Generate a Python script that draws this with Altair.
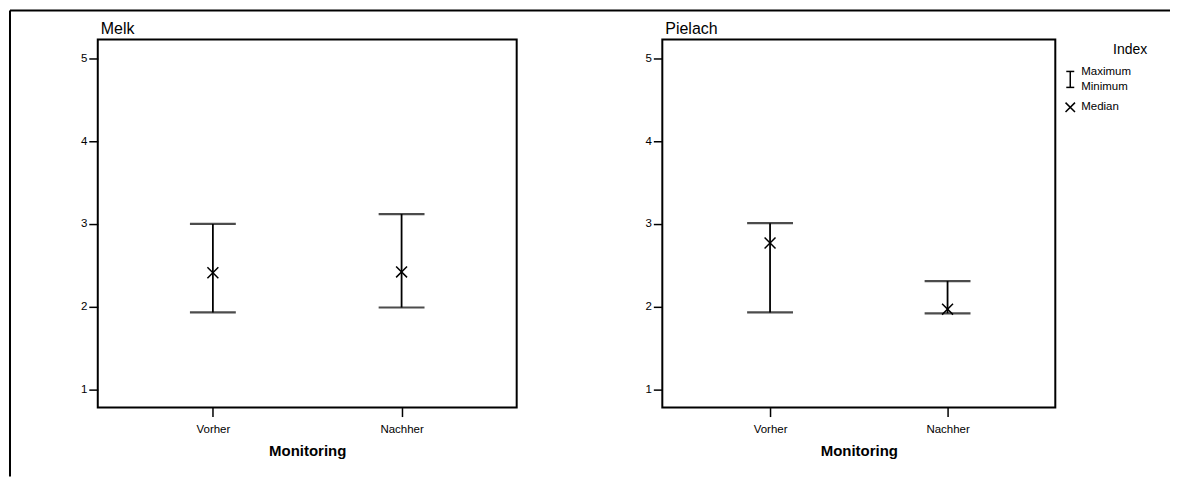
import altair as alt
import pandas as pd

# ---- data ----
regions = ["Melk", "Melk", "Pielach", "Pielach"]
phases = ["Vorher", "Nachher", "Vorher", "Nachher"]
maximum = [3.00, 3.12, 3.01, 2.31]
minimum = [1.93, 1.99, 1.93, 1.92]
median = [2.41, 2.42, 2.77, 1.97]
phase_order = ["Vorher", "Nachher"]
y_ticks = [1, 2, 3, 4, 5]
legend_title = "Index"
legend_labels = ["Maximum", "Minimum", "Median"]

df = pd.DataFrame(dict(region=regions, phase=phases, vmax=maximum,
                       vmin=minimum, vmed=median))

FONT = "Liberation Sans"
XPATH = "M-1,-1L1,1M-1,1L1,-1"
Y_DOMAIN = [0.78, 5.23]
one = pd.DataFrame({"a": [0]})


def label(text, x, y, size, align="left", baseline="middle"):
    return alt.Chart(one).mark_text(text=text, font=FONT, fontSize=size,
                                    align=align, baseline=baseline,
                                    color="black").encode(
        x=alt.value(x), y=alt.value(y))


def panel(name, width, pad, extras=()):
    base = alt.Chart(df[df.region == name])
    x = alt.X("phase:N", sort=phase_order,
              scale=alt.Scale(type="point", padding=pad),
              axis=alt.Axis(title="Monitoring", labelAngle=0))
    yscale = alt.Scale(domain=Y_DOMAIN, nice=False, zero=False)
    yax = alt.Axis(values=y_ticks, title=None, format="d")
    rule = base.mark_rule(color="black", strokeWidth=1.8).encode(
        x=x, y=alt.Y("vmin:Q", scale=yscale, axis=yax), y2="vmax:Q")
    cap_hi = base.mark_tick(color="black", thickness=2.2, size=46).encode(
        x=x, y=alt.Y("vmax:Q", scale=yscale))
    cap_lo = base.mark_tick(color="black", thickness=2.2, size=46).encode(
        x=x, y=alt.Y("vmin:Q", scale=yscale))
    med = base.mark_point(shape=XPATH, filled=False, color="black",
                          strokeWidth=1.5, size=120, opacity=1).encode(
        x=x, y=alt.Y("vmed:Q", scale=yscale))
    title = label(name, 3, -3, 16, baseline="bottom")
    return alt.layer(rule, cap_hi, cap_lo, med, title, *extras).properties(
        width=width, height=369)


# outer frame (decoration)
frame_top = alt.Chart(one).mark_rule(color="black", strokeWidth=2).encode(
    x=alt.value(-88), x2=alt.value(1075), y=alt.value(-29))
frame_left = alt.Chart(one).mark_rule(color="black", strokeWidth=2).encode(
    x=alt.value(-88), y=alt.value(-29), y2=alt.value(438))

# manual legend (decoration) placed right of panel 2
lg_title = label(legend_title, 469, 11, 14, align="center")
lg_max = label(legend_labels[0], 420, 33, 11.5)
lg_min = label(legend_labels[1], 420, 48, 11.5)
lg_med = label(legend_labels[2], 420, 68, 11.5)
lg_bar = alt.Chart(one).mark_rule(color="black", strokeWidth=1.5).encode(
    x=alt.value(409), y=alt.value(32), y2=alt.value(48))
lg_cap1 = alt.Chart(one).mark_rule(color="black", strokeWidth=1.5).encode(
    x=alt.value(405), x2=alt.value(413), y=alt.value(32))
lg_cap2 = alt.Chart(one).mark_rule(color="black", strokeWidth=1.5).encode(
    x=alt.value(405), x2=alt.value(413), y=alt.value(48))
lg_x = alt.Chart(one).mark_point(shape=XPATH, filled=False, color="black",
                                 strokeWidth=1.5, size=90, opacity=1).encode(
    x=alt.value(409), y=alt.value(68))

p1 = panel("Melk", 420, 0.61, extras=(frame_top, frame_left))
p2 = panel("Pielach", 394, 0.607,
           extras=(lg_title, lg_max, lg_min, lg_med, lg_bar, lg_cap1, lg_cap2, lg_x))

chart = alt.hconcat(p1, p2, spacing=146, bounds="flush").properties(
    padding=0, background="white"
).configure_view(
    stroke="black", strokeWidth=2, fill="white"
).configure_axis(
    labelFont=FONT, labelFontSize=11.5, labelColor="black",
    tickColor="black", tickWidth=1.5, tickSize=9, domain=False, grid=False,
    titleFont=FONT, titleColor="black"
).configure_axisY(
    labelPadding=2
).configure_axisX(
    labelPadding=7, titleFontSize=15, titleFontWeight="bold", titlePadding=9
)

chart.save("out.html", embed_options={"renderer": "svg", "actions": False})
